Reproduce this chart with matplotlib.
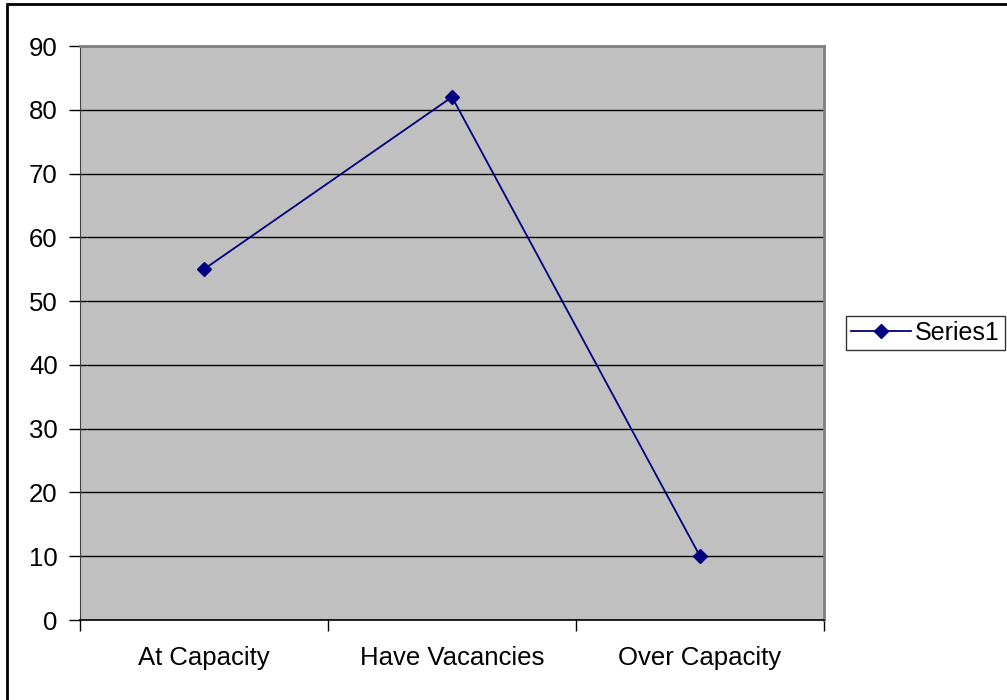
import matplotlib
matplotlib.use("Agg")
import matplotlib.pyplot as plt
from matplotlib.patches import Rectangle
from matplotlib.lines import Line2D

categories = ["At Capacity", "Have Vacancies", "Over Capacity"]
values = [55, 82, 10]
yticks = [0, 10, 20, 30, 40, 50, 60, 70, 80, 90]
series_name = "Series1"

W, H = 1007, 700
fig = plt.figure(figsize=(W / 100, H / 100), dpi=100)
plt.rcParams['font.family'] = ['Liberation Sans', 'DejaVu Sans']
FS = 18.5

# outer frame (cut off at right/bottom)
fig.patches.append(Rectangle((7 / W, -0.1), 1.2, (H - 4) / H + 0.1, transform=fig.transFigure,
                             fill=False, edgecolor='black', linewidth=2, zorder=0))

x0, x1, ytop, ybot = 80, 824, 46, 620
ax = fig.add_axes([x0 / W, 1 - ybot / H, (x1 - x0) / W, (ybot - ytop) / H])
ax.set_facecolor('#c0c0c0')
ax.set_xlim(0, 3)
ax.set_ylim(0, 90)
xs = [i + 0.5 for i in range(len(categories))]
ax.plot(xs, values, color='#000080', marker='D', markersize=7, linewidth=1.3, zorder=3,
        label=series_name)
ax.set_yticks(yticks)
ax.set_yticklabels([str(v) for v in yticks], fontsize=FS)
ax.yaxis.grid(True, color='black', linewidth=1)
ax.set_axisbelow(True)
ax.set_xticks([0, 1, 2, 3])
ax.set_xticklabels([])
ax.set_xticks(xs, minor=True)
ax.set_xticklabels(categories, minor=True, fontsize=FS)
ax.tick_params(axis='x', which='minor', length=0, pad=19)
ax.tick_params(axis='x', which='major', length=8, direction='out', width=1)
ax.tick_params(axis='y', length=8, direction='out', width=1, pad=8)
for s in ['top', 'right']:
    ax.spines[s].set_color('#808080')
    ax.spines[s].set_linewidth(2)
ax.spines['left'].set_color('#404040')
ax.spines['bottom'].set_color('black')
ax.spines['bottom'].set_linewidth(1.2)

leg = fig.legend(handles=[Line2D([0], [0], color='#000080', marker='D', markersize=7, linewidth=1.3)],
                 labels=[series_name], loc='center left',
                 bbox_to_anchor=(846 / W, 1 - 333 / H), fontsize=18, frameon=True,
                 fancybox=False, edgecolor='black', borderpad=0.2, handlelength=2.4,
                 handletextpad=0.15, borderaxespad=0)
leg.get_frame().set_linewidth(1)

fig.savefig("out.png", dpi=100)
